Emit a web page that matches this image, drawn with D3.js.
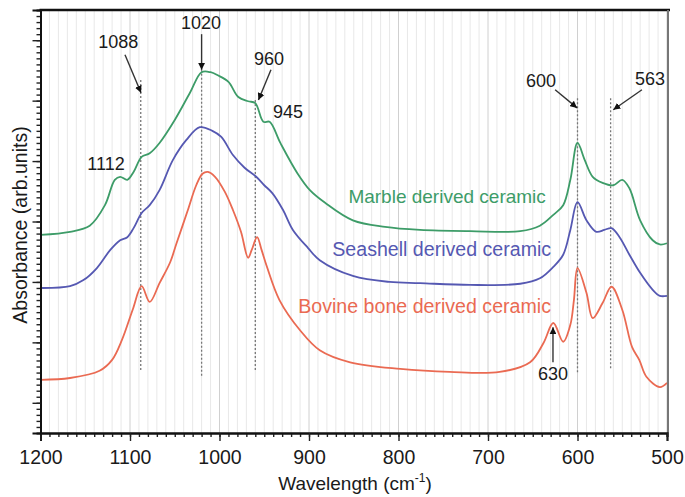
<!DOCTYPE html>
<html><head><meta charset="utf-8">
<script src="https://cdn.jsdelivr.net/npm/d3@7"></script>
<style>body{margin:0;background:#fff}svg{display:block}text{font-family:"Liberation Sans",Arial,sans-serif}</style>
</head><body>
<svg id="c" width="685" height="497"></svg>
<script>
// wavenumber (cm-1), absorbance (arb. units)
const marble = [[1200,3.28],[1167,3.33],[1145,3.43],[1128,3.77],[1117,4.19],[1111,4.24],[1103,4.19],[1096,4.32],[1087,4.57],[1078,4.63],[1067,4.80],[1050,5.18],[1033,5.63],[1020,5.97],[1010,5.97],[1002,5.92],[990,5.81],[979,5.56],[968,5.49],[960,5.46],[951,5.15],[944,5.15],[932,4.80],[913,4.30],[899,4.02],[882,3.81],[851,3.52],[815,3.41],[776,3.36],[720,3.34],[664,3.34],[642,3.43],[627,3.61],[616,3.77],[608,4.19],[600,4.80],[592,4.52],[583,4.24],[572,4.14],[560,4.10],[550,4.19],[542,4.05],[530,3.52],[516,3.19],[508,3.12],[500,3.14]];
const seashell = [[1200,2.40],[1167,2.43],[1152,2.53],[1137,2.73],[1122,3.03],[1111,3.19],[1103,3.24],[1096,3.39],[1087,3.64],[1078,3.77],[1067,4.02],[1052,4.52],[1037,4.85],[1022,5.06],[1008,5.00],[998,4.90],[985,4.60],[972,4.39],[959,4.24],[950,4.10],[941,3.97],[929,3.69],[918,3.36],[901,3.06],[888,2.86],[851,2.60],[810,2.50],[776,2.48],[720,2.45],[664,2.47],[642,2.56],[627,2.75],[616,2.95],[608,3.36],[600,3.82],[590,3.52],[579,3.33],[570,3.36],[562,3.39],[553,3.24],[542,2.95],[530,2.65],[516,2.37],[508,2.27],[500,2.27]];
const bovine = [[1200,0.88],[1167,0.91],[1134,1.03],[1120,1.21],[1109,1.54],[1097,2.04],[1087,2.43],[1078,2.17],[1067,2.48],[1055,2.83],[1048,3.14],[1036,3.66],[1026,4.10],[1019,4.29],[1013,4.32],[1005,4.24],[994,3.99],[985,3.69],[976,3.33],[968,2.90],[964,3.03],[958,3.24],[953,3.03],[947,2.75],[933,2.20],[910,1.70],[888,1.37],[854,1.17],[798,1.06],[743,1.01],[687,1.01],[653,1.17],[638,1.49],[627,1.82],[616,1.51],[608,1.79],[604,2.20],[600,2.73],[590,2.32],[583,1.90],[572,2.15],[562,2.42],[550,2.04],[539,1.42],[531,1.21],[523,0.93],[508,0.76],[500,0.83]];
const seriesNames = ["Marble derived ceramic","Seashell derived ceramic","Bovine bone derived ceramic"];
const seriesColors = ["#3d9c68","#5558b2","#ea6a52"];
const seriesLabelPos = [[856,3.81],[874,2.93],[912,1.99]];
const xTicks = [1200,1100,1000,900,800,700,600,500];
// dotted guide lines: wavenumber, from, to
const guides = [[1088,5.84,1.01],[1020,6.01,0.94],[960,5.51,1.01],[600,5.54,0.99],[563,5.54,1.04]];
// peak annotations: label, label x, label y, arrow start, arrow end
const notes = [
 ["1088",1113,6.37,[1105.6,6.26],[1087.7,5.63]],
 ["1020",1020.7,6.69,[1020,6.60],[1020,6.01]],
 ["960",944.7,6.09,[942.5,6.01],[956.5,5.51]],
 ["945",923.5,5.21,null,null],
 ["1112",1126.8,4.35,null,null],
 ["600",640.8,5.73,[625,5.68],[600.5,5.38]],
 ["563",519,5.76,[528,5.68],[560,5.35]],
 ["630",627.4,0.88,[627.4,1.17],[627.4,1.75]]
];

const svg = d3.select("#c");
const L=40.5,R=667,T=10,B=433;
const x = d3.scaleLinear().domain([1200,500]).range([L,R]);
const y = d3.scaleLinear().domain([0,7]).range([B,T]);

// grid
const gridVals = d3.range(500,1201,10);
svg.append("g").selectAll("line").data(gridVals).join("line")
  .attr("x1",d=>x(d)).attr("x2",d=>x(d)).attr("y1",T).attr("y2",B)
  .attr("stroke",d=>d%100===0?"#d0d0d0":"#e8e8e8").attr("stroke-width",1);

// guides
svg.append("g").selectAll("line").data(guides).join("line")
  .attr("x1",d=>x(d[0])).attr("x2",d=>x(d[0])).attr("y1",d=>y(d[1])).attr("y2",d=>y(d[2]))
  .attr("stroke","#777").attr("stroke-width",1.3).attr("stroke-dasharray","2,2");

// curves
const line = d3.line().x(d=>x(d[0])).y(d=>y(d[1])).curve(d3.curveCatmullRom.alpha(0.5));
[marble,seashell,bovine].forEach((s,i)=>{
  svg.append("path").datum(s).attr("d",line).attr("fill","none")
    .attr("stroke",seriesColors[i]).attr("stroke-width",1.8);
  svg.append("text").attr("x",x(seriesLabelPos[i][0])).attr("y",y(seriesLabelPos[i][1]))
    .attr("fill",seriesColors[i]).attr("font-size",i===0?19:19.6).text(seriesNames[i]);
});

// frame
svg.append("line").attr("x1",L-1).attr("x2",R+3).attr("y1",T).attr("y2",T).attr("stroke","#111").attr("stroke-width",2.5);
svg.append("line").attr("x1",R+1).attr("x2",R+1).attr("y1",T).attr("y2",B).attr("stroke","#777").attr("stroke-width",2);

// x axis
const xa = svg.append("g").attr("transform",`translate(0,${B})`);
xa.call(d3.axisBottom(x).tickValues(d3.range(500,1201,10)).tickSize(4).tickFormat(""));
xa.append("g").call(d3.axisBottom(x).tickValues(xTicks).tickSize(8).tickFormat(d3.format("d")));
xa.selectAll("path.domain").attr("stroke","#111").attr("stroke-width",2);
xa.selectAll(".tick line").attr("stroke","#222").attr("stroke-width",1.4);
xa.selectAll("text").attr("font-size",19.5).attr("fill","#1a1a1a").attr("dy","1.0em")
  .style("font-family","'Liberation Sans',Arial,sans-serif");

// y axis
const ya = svg.append("g").attr("transform",`translate(${L},0)`);
ya.call(d3.axisLeft(y).tickValues(d3.range(0.1,7,0.1)).tickSize(4).tickFormat(""));
ya.append("g").call(d3.axisLeft(y).tickValues(d3.range(0.5,7,1)).tickSize(8).tickFormat(""));
ya.selectAll("path.domain").attr("stroke","#111").attr("stroke-width",2);
ya.selectAll(".tick line").attr("stroke","#222").attr("stroke-width",1.4);

// annotations
svg.append("defs").append("marker").attr("id","ah").attr("viewBox","0 0 10 10")
  .attr("refX",10).attr("refY",5).attr("markerWidth",7).attr("markerHeight",7)
  .attr("markerUnits","userSpaceOnUse").attr("orient","auto")
  .append("path").attr("d","M0,0L10,5L0,10z").attr("fill","#111");
notes.forEach(n=>{
  svg.append("text").attr("x",x(n[1])).attr("y",y(n[2])).attr("text-anchor","middle")
    .attr("font-size",18).attr("fill","#1a1a1a").text(n[0]);
  if(n[3]) svg.append("line").attr("x1",x(n[3][0])).attr("y1",y(n[3][1]))
    .attr("x2",x(n[4][0])).attr("y2",y(n[4][1])).attr("stroke","#333").attr("stroke-width",1.4)
    .attr("marker-end","url(#ah)");
});

// axis titles
const xt = svg.append("text").attr("x",355).attr("y",490).attr("text-anchor","middle").attr("font-size",19).attr("fill","#1a1a1a");
xt.append("tspan").text("Wavelength (cm");
xt.append("tspan").attr("dy",-8).attr("font-size",12).text("-1");
xt.append("tspan").attr("dy",8).text(")");
svg.append("text").attr("transform","translate(27,225) rotate(-90)").attr("text-anchor","middle")
  .attr("font-size",19.5).attr("fill","#1a1a1a").text("Absorbance (arb.units)");
</script>
</body></html>
